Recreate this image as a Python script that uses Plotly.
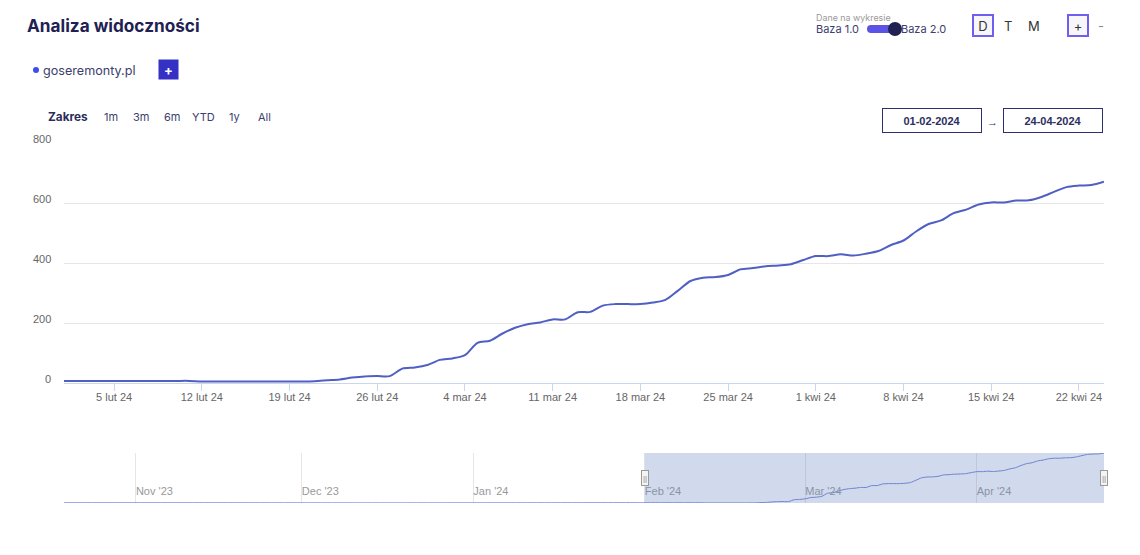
import pandas as pd
import plotly.graph_objects as go

W, H = 1140, 555

# ---------------- data ----------------
dates = pd.date_range("2024-02-01", "2024-04-24", freq="D")
values = [
    7, 7, 7, 7, 7, 7, 7, 7, 7, 7, 7,          # Feb 1-11
    5, 5, 5, 5, 5, 5, 5, 5, 5,                # Feb 12-20
    6, 9, 12, 18, 22, 23, 23, 48, 52,         # Feb 21-29
    60, 77, 82, 93, 134, 141, 165, 184, 196, 202,   # Mar 1-10
    212, 212, 236, 237, 258, 263, 263, 263, 268, 277,  # Mar 11-20
    308, 340, 351, 353, 360, 379, 383, 389, 392, 396, 410,  # Mar 21-31
    423, 423, 429, 425, 431, 440, 460, 475, 505, 530,  # Apr 1-10
    542, 566, 578, 595, 602, 602, 608, 609, 620, 637,  # Apr 11-20
    653, 658, 660, 671,                                  # Apr 21-24
]
hist_dates = ["2023-10-19", "2023-11-15", "2023-12-15", "2024-01-15", "2024-01-31"]
hist_values = [6, 6, 5, 6, 7]

tick_dates = ["2024-02-05", "2024-02-12", "2024-02-19", "2024-02-26", "2024-03-04",
              "2024-03-11", "2024-03-18", "2024-03-25", "2024-04-01", "2024-04-08",
              "2024-04-15", "2024-04-22"]
tick_labels = ["5 lut 24", "12 lut 24", "19 lut 24", "26 lut 24", "4 mar 24",
               "11 mar 24", "18 mar 24", "25 mar 24", "1 kwi 24", "8 kwi 24",
               "15 kwi 24", "22 kwi 24"]
y_ticks = [0, 200, 400, 600, 800]

range_buttons = ["1m", "3m", "6m", "YTD", "1y", "All"]
date_from, date_to = "01-02-2024", "24-04-2024"
series_name = "goseremonty.pl"

# ---------------- helpers ----------------
def px(x):
    return x / W

def py(y):
    return 1 - y / H

NAVY = "#1f2152"
TXT = "#3c3e6e"
LINE = "#4f5fc3"
AXFONT = "Liberation Sans, Arial, sans-serif"

fig = go.Figure()

fig.add_trace(go.Scatter(
    x=dates, y=values, mode="lines",
    line=dict(color=LINE, width=2, shape="spline", smoothing=0.8),
    xaxis="x", yaxis="y", hoverinfo="skip", showlegend=False,
))

nav_x = list(pd.to_datetime(hist_dates)) + list(dates)
nav_y = hist_values + values
fig.add_trace(go.Scatter(
    x=nav_x, y=nav_y, mode="lines",
    line=dict(color="#7080d6", width=1, shape="spline", smoothing=0.6),
    xaxis="x2", yaxis="y2", hoverinfo="skip", showlegend=False,
))

fig.update_layout(
    width=W, height=H, autosize=False,
    margin=dict(l=0, r=0, t=0, b=0),
    paper_bgcolor="white", plot_bgcolor="white",
    showlegend=False, hovermode=False,
    font=dict(family=AXFONT, size=11, color="#666666"),
    xaxis=dict(
        domain=[px(64), px(1104)],
        range=["2024-02-01", "2024-04-24"],
        type="date",
        tickvals=tick_dates, ticktext=tick_labels,
        ticks="outside", ticklen=7, tickcolor="#ccd6eb", tickwidth=1,
        ticklabelstandoff=-3,
        showline=True, linecolor="#ccd6eb", linewidth=1,
        showgrid=False, zeroline=False,
        tickfont=dict(size=11, color="#666666"),
        anchor="y",
    ),
    yaxis=dict(
        domain=[py(383), py(143)],
        range=[0, 800],
        tickvals=y_ticks,
        showgrid=True, gridcolor="#e6e6e6", gridwidth=1,
        zeroline=False, showline=False, ticks="",
        showticklabels=False,
        anchor="x",
    ),
    xaxis2=dict(
        domain=[px(64), px(1104)],
        range=["2023-10-19", "2024-04-24"],
        type="date",
        tick0="2023-11-01", dtick="M1", tickformat="%b '%y",
        ticklabelposition="inside right",
        ticks="", showgrid=True, gridcolor="#e6e6e6", gridwidth=1,
        showline=False, zeroline=False,
        tickfont=dict(size=11, color="#999999"),
        anchor="y2",
    ),
    yaxis2=dict(
        domain=[py(503), py(453)],
        range=[4, 672],
        showgrid=False, showticklabels=False, zeroline=False, showline=False,
        anchor="x2",
    ),
)

shapes = []
# navigator selection mask
shapes.append(dict(type="rect", xref="x2", yref="y2 domain",
                   x0=dates[0], x1=dates[-1], y0=0, y1=1,
                   fillcolor="rgba(102,133,194,0.3)", line=dict(width=0), layer="above"))
# legend dot
shapes.append(dict(type="circle", xref="paper", yref="paper",
                   x0=px(33), x1=px(39), y0=py(73), y1=py(67),
                   fillcolor="#3d4cf0", line=dict(width=0)))
# toggle pill
shapes.append(dict(type="rect", xref="paper", yref="paper",
                   x0=px(871), x1=px(895), y0=py(33), y1=py(25),
                   fillcolor="#5b52e6", line=dict(width=0)))
shapes.append(dict(type="circle", xref="paper", yref="paper",
                   x0=px(867), x1=px(875), y0=py(33), y1=py(25),
                   fillcolor="#5b52e6", line=dict(width=0)))
shapes.append(dict(type="circle", xref="paper", yref="paper",
                   x0=px(888), x1=px(902), y0=py(36), y1=py(22),
                   fillcolor=NAVY, line=dict(width=0)))
fig.update_layout(shapes=shapes)

ann = []
def A(x, y, text, size=12, color=TXT, family="Inter, sans-serif", xanchor="left", **kw):
    d = dict(xref="paper", yref="paper", x=px(x), y=py(y), text=text, showarrow=False,
             xanchor=xanchor, yanchor="middle", font=dict(size=size, color=color, family=family))
    d.update(kw)
    ann.append(d)

# y-axis labels (slightly above gridlines, like the reference)
for v in y_ticks:
    ann.append(dict(xref="paper", yref="y", x=px(53), y=v, text=str(v), showarrow=False,
                    xanchor="right", yanchor="middle", yshift=4,
                    font=dict(size=11, color="#666666", family=AXFONT)))

# navigator handles (annotations so they are not clipped)
for hx in [dates[0], dates[-1]]:
    ann.append(dict(xref="x2", yref="y2 domain", x=hx, y=0.5, text="||", showarrow=False,
                    xanchor="center", yanchor="middle",
                    font=dict(size=8, color="#888888", family=AXFONT),
                    bgcolor="#f4f4f4", bordercolor="#999999", borderwidth=1, borderpad=0,
                    width=6, height=14))

A(25, 26, "<b>Analiza widoczności</b>", size=17.2, color=NAVY)
A(41, 70, series_name, size=12.6, color="#3c3e6b")
A(168.5, 69.5, "<b>+</b>", size=13, color="white", xanchor="center",
  bgcolor="#3431c4", width=19, height=19, borderpad=0)

A(814, 17, "Dane na wykresie", size=8.9, color="#9a9a9a")
A(814, 29, "Baza 1.0", size=11, color=TXT)
A(899, 29, "Baza 2.0", size=11, color=TXT)

A(982.5, 26, "D", size=13, color="#333333", xanchor="center",
  bgcolor="#f6f6fb", bordercolor="#6e5ff0", borderwidth=2, borderpad=0, width=18, height=19)
A(1008, 26, "T", size=13, color="#333333", xanchor="center")
A(1034, 26, "M", size=13, color="#333333", xanchor="center")
A(1077.5, 26, "+", size=13, color="#333333", xanchor="center",
  bgcolor="#f6f6fb", bordercolor="#6e5ff0", borderwidth=2, borderpad=0, width=18, height=19)
A(1101, 26, "-", size=13, color="#888888", xanchor="center")

A(46, 117, "<b>Zakres</b>", size=11.8, color="#2a2c5a")
for cx, lab in zip([111, 141, 172, 203, 234, 264], range_buttons):
    A(cx, 117, lab, size=11, color=TXT, xanchor="center")

A(931.5, 120.5, "<b>" + date_from + "</b>", size=11, color="#2d2f5e",
  family=AXFONT, xanchor="center",
  bordercolor="#2d2f6e", borderwidth=1, borderpad=0, width=98, height=23)
A(992, 122, "→", size=11, color="#2d2f5e", family=AXFONT, xanchor="center")
A(1053, 120.5, "<b>" + date_to + "</b>", size=11, color="#2d2f5e",
  family=AXFONT, xanchor="center",
  bordercolor="#2d2f6e", borderwidth=1, borderpad=0, width=98, height=23)

fig.update_layout(annotations=ann)

fig.write_html("out.html", config={"displayModeBar": False})
